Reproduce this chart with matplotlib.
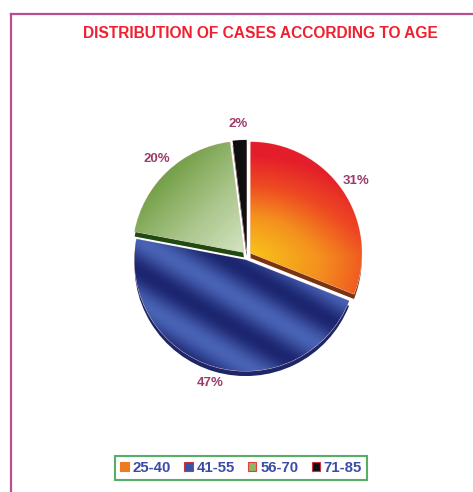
import numpy as np
import matplotlib.pyplot as plt
from matplotlib.lines import Line2D
from matplotlib.patches import Patch
from matplotlib.colors import LinearSegmentedColormap

plt.rcParams['font.family'] = ['Liberation Sans', 'DejaVu Sans']

# data
age_groups = ['25-40', '41-55', '56-70', '71-85']
percent = [31, 47, 20, 2]
base_colors = ['#f07a20', '#3a52a4', '#8fb566', '#111111']
shadow_colors = ['#7a3410', '#1c2668', '#1f4a12', '#000000']
legend_edges = ['#f07a20', '#d03040', '#e04040', '#d03040']

fig = plt.figure(figsize=(4.73, 4.92), dpi=100)

# frame lines on top and left
fig.add_artist(Line2D([0.0243, 0.0243], [0.0, 0.9715], color='#b5508a', lw=1.6))
fig.add_artist(Line2D([0.0243, 1.0], [0.9715, 0.9715], color='#b5508a', lw=1.6))

fig.text(0.551, 0.931, 'DISTRIBUTION OF CASES ACCORDING TO AGE', color='#f02030',
         fontsize=11.2, fontweight='bold', ha='center', va='center')

ax = fig.add_axes([0.228, 0.198, 0.588, 0.565])
explode = [0.04, 0.04, 0.04, 0.04]

# 3D depth: darker copy shifted down
shadow, _ = ax.pie(percent, colors=shadow_colors, startangle=90, counterclock=False,
                   explode=explode, center=(0, -0.045), frame=True)
for w in shadow:
    w.set_zorder(1)

wedges, _, autotexts = ax.pie(percent, colors=base_colors, startangle=90, counterclock=False,
                              explode=explode, autopct='%d%%', pctdistance=1.15, frame=True,
                              wedgeprops=dict(edgecolor='#f4d0d0', linewidth=0.6))
for w in wedges:
    w.set_zorder(2)
for t in autotexts:
    t.set_color('#9c3b6b')
    t.set_fontweight('bold')
    t.set_fontsize(9.5)

# gradient fills clipped to each wedge
n = 300
xs = np.linspace(-1.2, 1.2, n)
X, Y = np.meshgrid(xs, xs[::-1])
R = np.sqrt(X ** 2 + Y ** 2)

fills = [
    (LinearSegmentedColormap.from_list('o', [(0, '#f8c818'), (0.4, '#f4901e'),
                                             (0.7, '#ee4a22'), (1, '#e41e2a')]),
     np.clip(R * 0.6 + np.maximum(Y, 0) * 0.5, 0, 1)),
    (LinearSegmentedColormap.from_list('b', ['#1c2670', '#4862b4']),
     0.5 + 0.5 * np.sin((X * 0.5 + Y * 0.85) * 13)),
    (LinearSegmentedColormap.from_list('g', ['#d8e6c6', '#a8c488', '#6c9a3e']),
     np.clip((-X * 0.7 + Y * 0.7) / 1.1, 0, 1)),
    (LinearSegmentedColormap.from_list('k', ['#000000', '#222222']),
     np.clip(X + 0.5, 0, 1)),
]
for w, (cmap, val) in zip(wedges, fills):
    im = ax.imshow(val, cmap=cmap, extent=(-1.2, 1.2, -1.2, 1.2), vmin=0, vmax=1,
                   zorder=3, interpolation='bilinear')
    im.set_clip_path(w)
ax.set_xlim(-1.25, 1.25)
ax.set_ylim(-1.25, 1.25)
ax.set_aspect('equal')
ax.axis('off')

handles = [Patch(facecolor=c, edgecolor=e, linewidth=0.8) for c, e in zip(base_colors, legend_edges)]
leg = fig.legend(handles, age_groups, loc='center', bbox_to_anchor=(0.51, 0.049), ncol=4,
                 fancybox=False, handlelength=0.55, handleheight=0.55, handletextpad=0.25,
                 columnspacing=0.9, borderpad=0.35, prop=dict(weight='bold', size=10.8))
leg.get_frame().set_edgecolor('#2e9a40')
leg.get_frame().set_linewidth(1.5)
for t in leg.get_texts():
    t.set_color('#3c4ca6')

fig.savefig('out.png', dpi=100)
